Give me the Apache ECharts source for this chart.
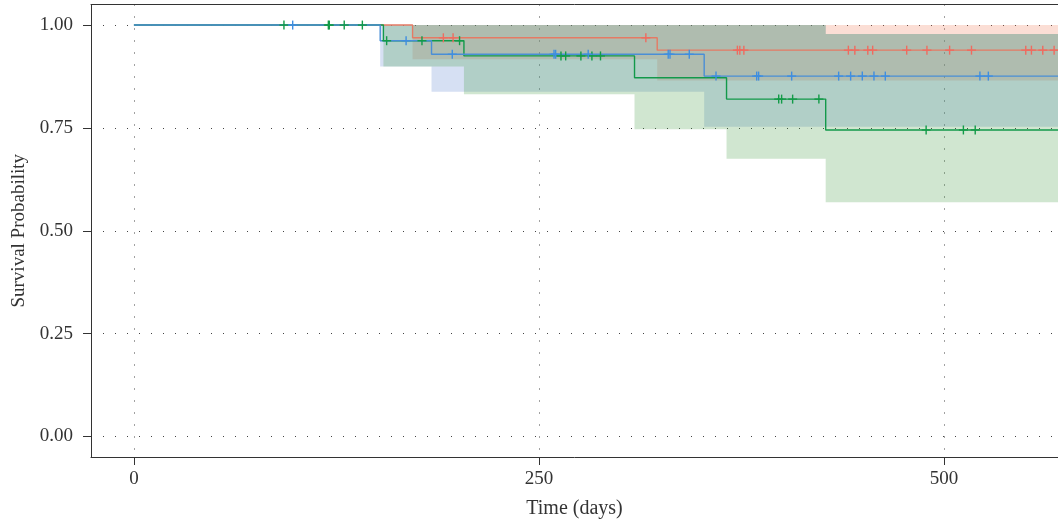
<!DOCTYPE html>
<html><head><meta charset="utf-8">
<script src="https://cdn.jsdelivr.net/npm/echarts@6/dist/echarts.min.js"></script>
<style>html,body{margin:0;padding:0;background:#fff}#c{width:1058px;height:524px}</style>
</head><body><div id="c"></div>
<script>
// ---- axis ticks ----
const xTicks = [0, 250, 500];
const yTicks = [0, 0.25, 0.5, 0.75, 1];
const X_MIN = -26.5, X_MAX = 570.4;
const Y_MIN = -0.05, Y_MAX = 1.05;

// ---- red group ----
const redTimes = [0, 172, 323];
const redSurv = [1, 0.969, 0.939];
const redCiTimes = [0, 172, 323];
const redLower = [1, 0.917, 0.865];
const redUpper = [1, 1, 1];
const redCensor = [191, 197, 316, 372.5, 374, 376.5, 441, 445, 453, 456, 477, 489.5, 503.5, 517, 550.5, 554, 561, 568];

// ---- blue group ----
const blueTimes = [0, 152, 183.7, 352];
const blueSurv = [1, 0.962, 0.929, 0.876];
const blueCiTimes = [0, 152, 183.7, 352, 427];
const blueLower = [1, 0.899, 0.838, 0.753, 0.753];
const blueUpper = [1, 1, 1, 1, 0.978];
const blueCensor = [98, 168, 196.5, 259.3, 260.3, 280.4, 329.8, 330.9, 342.8, 359.3, 384.4, 385.6, 406, 435, 442.4, 449.6, 456.8, 463.8, 522.2, 527.4];

// ---- green group ----
const greenTimes = [0, 154, 203.7, 309, 365.8, 427];
const greenSurv = [1, 0.962, 0.925, 0.872, 0.820, 0.745];
const greenCiTimes = [0, 154, 203.7, 309, 365.8, 427];
const greenLower = [1, 0.899, 0.832, 0.747, 0.675, 0.569];
const greenUpper = [1, 1, 1, 1, 1, 0.978];
const greenCensor = [92.6, 120, 120.6, 129.8, 141, 156, 177.8, 201, 263.6, 266.5, 275.9, 282.7, 288, 398, 399.8, 406.6, 422.8, 489, 512, 519.3];

const FONT = 'Liberation Serif';
const AXIS_COLOR = '#333';

function stepAt(times, surv, t) {
  let v = surv[0];
  for (let i = 0; i < times.length; i++) if (times[i] <= t) v = surv[i];
  return v;
}
function lineData(times, surv) {
  const d = times.map((t, i) => [t, surv[i]]);
  d.push([X_MAX, surv[surv.length - 1]]);
  return d;
}
function bandSeries(ct, lo, up, fill) {
  return {
    type: 'custom', silent: true, z: 1,
    data: [[0, 1]],
    renderItem: function (params, api) {
      const pts = [];
      for (let i = 0; i < ct.length; i++) {
        const t1 = i + 1 < ct.length ? ct[i + 1] : X_MAX;
        pts.push(api.coord([ct[i], up[i]]));
        pts.push(api.coord([t1, up[i]]));
      }
      for (let i = ct.length - 1; i >= 0; i--) {
        const t1 = i + 1 < ct.length ? ct[i + 1] : X_MAX;
        pts.push(api.coord([t1, lo[i]]));
        pts.push(api.coord([ct[i], lo[i]]));
      }
      return { type: 'polygon', shape: { points: pts }, style: { fill: fill, stroke: null } };
    }
  };
}
function kmLine(times, surv, color) {
  return {
    type: 'line', step: 'end', z: 3, silent: true, showSymbol: false,
    data: lineData(times, surv),
    lineStyle: { color: color, width: 1.4 }
  };
}
function censorSeries(censor, times, surv, color) {
  const H = 4.5;
  return {
    type: 'custom', z: 4, silent: true,
    data: censor.map(t => [t, stepAt(times, surv, t)]),
    encode: { x: 0, y: 1 },
    renderItem: function (params, api) {
      const p = api.coord([api.value(0), api.value(1)]);
      const st = { stroke: color, lineWidth: 1.4, fill: null };
      return {
        type: 'group',
        children: [
          { type: 'line', shape: { x1: p[0] - H, y1: p[1], x2: p[0] + H, y2: p[1] }, style: st },
          { type: 'line', shape: { x1: p[0], y1: p[1] - H, x2: p[0], y2: p[1] + H }, style: st }
        ]
      };
    }
  };
}

const chart = echarts.init(document.getElementById('c'), null, { renderer: 'canvas' });
chart.setOption({
  animation: false,
  backgroundColor: '#fff',
  grid: { left: 91, top: 4.5, right: 0, height: 453, show: false },
  xAxis: [{
    type: 'value', min: X_MIN, max: X_MAX,
    axisLine: { show: true, onZero: false, lineStyle: { color: AXIS_COLOR, width: 1 } },
    axisTick: { show: true, customValues: xTicks, length: 8, lineStyle: { color: AXIS_COLOR } },
    axisLabel: { customValues: xTicks, margin: 13, fontFamily: FONT, fontSize: 19, color: '#333' },
    splitLine: { show: true, lineStyle: { type: [1, 11], color: '#444', width: 1 } },
    name: 'Time (days)', nameLocation: 'middle', nameGap: 42,
    nameTextStyle: { fontFamily: FONT, fontSize: 20, color: '#333' }
  }, {
    type: 'value', min: X_MIN, max: X_MAX, position: 'top',
    axisLine: { show: true, onZero: false, lineStyle: { color: AXIS_COLOR, width: 1 } },
    axisTick: { show: false }, axisLabel: { show: false }, splitLine: { show: false }
  }],
  yAxis: {
    type: 'value', min: Y_MIN, max: Y_MAX,
    axisLine: { show: true, onZero: false, lineStyle: { color: AXIS_COLOR, width: 1 } },
    axisTick: { show: true, customValues: yTicks, length: 8, lineStyle: { color: AXIS_COLOR } },
    axisLabel: { customValues: yTicks, margin: 18, fontFamily: FONT, fontSize: 19, color: '#333', formatter: v => v.toFixed(2) },
    splitLine: { show: true, lineStyle: { type: [1, 11], color: '#444', width: 1 } },
    name: 'Survival Probability', nameLocation: 'middle', nameGap: 62, nameRotate: 90,
    nameTextStyle: { fontFamily: FONT, fontSize: 19, color: '#333' }
  },
  series: [
    bandSeries(redCiTimes, redLower, redUpper, 'rgba(239,123,87,0.25)'),
    bandSeries(blueCiTimes, blueLower, blueUpper, 'rgba(91,131,207,0.25)'),
    bandSeries(greenCiTimes, greenLower, greenUpper, 'rgba(67,155,67,0.25)'),
    kmLine(redTimes, redSurv, '#E57A64'),
    kmLine(greenTimes, greenSurv, '#12994A'),
    kmLine(blueTimes, blueSurv, '#4A8ED6'),
    censorSeries(redCensor, redTimes, redSurv, '#EF6B5F'),
    censorSeries(greenCensor, greenTimes, greenSurv, '#139B48'),
    censorSeries(blueCensor, blueTimes, blueSurv, '#3F8EE0')
  ]
});
</script>
</body></html>
